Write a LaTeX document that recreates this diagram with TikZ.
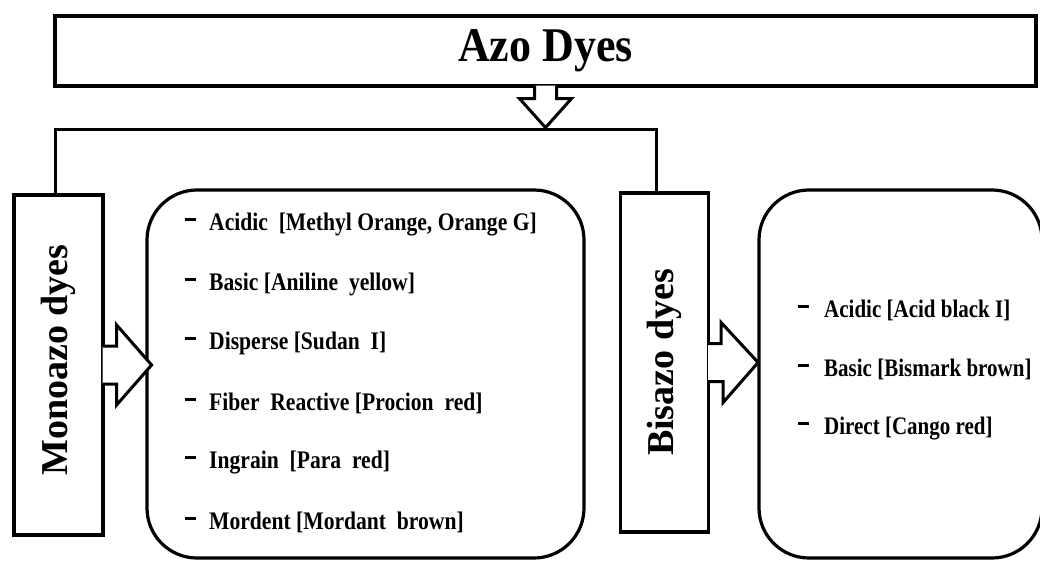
\documentclass[tikz,border=0pt]{standalone}
\usepackage{fontspec}
\setmainfont{Liberation Serif}
\usetikzlibrary{positioning,calc}

\newcommand{\tallbox}[2]{\scalebox{1}[#1]{#2}}
\newcommand{\bardash}{\rule[9.5pt]{11pt}{3pt}}

\begin{document}
\begin{tikzpicture}[
    x=1pt, y=-1pt,
    headbox/.style={draw, line width=3.2pt, rectangle, minimum width=981pt, minimum height=70pt, inner sep=0pt, font=\fontsize{44}{44}\selectfont\bfseries},
    classbox/.style={draw, line width=3.2pt, rectangle, minimum width=89pt, minimum height=340pt, inner sep=0pt},
    listbox/.style={draw, line width=3.2pt, rectangle, rounded corners=50pt, minimum height=368pt, inner sep=0pt},
    vlabel/.style={rotate=90, inner sep=0pt, font=\fontsize{38}{38}\selectfont\bfseries},
    item/.style={anchor=west, inner sep=0pt, font=\fontsize{21}{21}\selectfont\bfseries},
    blockarrow/.style={draw, line width=3pt, fill=white, line join=miter},
  ]
  \useasboundingbox (0,0) rectangle (1040,561);

  \node[headbox] (azo) at (545.5,51) {\tallbox{1.1}{Azo Dyes}};
  \node[classbox] (mono) at (58.5,365) {};
  \node[classbox, minimum width=88pt, minimum height=339pt] (bis) at (664.5,362.5) {};
  \node[listbox, minimum width=437pt] (monolist) at (365.5,374) {};
  \node[listbox, minimum width=283pt] (bislist) at (900.5,374) {};

  \node[vlabel] (monotxt) at ($(mono.center)+(0,-5)$) {Monoazo dyes};
  \node[vlabel] (bistxt) at ($(bis.center)+(0,0)$) {Bisazo dyes};

  % arrow down from the title box
  \path[blockarrow] ($(azo.south)+(-11,-2)$) -- ++(0,13) -- ++(-15,0)
    -- ($(azo.south)+(0,40)$) -- ($(azo.south)+(26,11)$) -- ++(-15,0)
    -- ($(azo.south)+(11,-2)$);
  \coordinate (split) at ($(azo.south)+(0,42)$);
  \draw[line width=3pt] ($(mono.north)+(-3.5,0)$) |- (split) -| ($(bis.north)+(-8.5,0)$);

  % arrows into the lists
  \path[blockarrow] ($(mono.east)+(-2,-19)$) -- ++(14,0) -- ++(0,-21)
    -- ($(mono.east)+(47,0)$) -- ($(mono.east)+(12,40)$) -- ++(0,-21)
    -- ($(mono.east)+(-2,19)$);
  \path[blockarrow] ($(bis.east)+(-2,-19)$) -- ++(13,0) -- ++(0,-21)
    -- ($(bis.east)+(48,0)$) -- ($(bis.east)+(13,40)$) -- ++(0,-21)
    -- ($(bis.east)+(-2,19)$);

  \foreach \txt [count=\i] in {{Acidic\ \ [Methyl Orange, Orange G]}, {Basic [Aniline\ \ yellow]},
      {Disperse [Sudan\ \ I]}, {Fiber\ \ Reactive [Procion\ \ red]}, {Ingrain\ \ [Para\ \ red]},
      {Mordent [Mordant\ \ brown]}}
    \node[item, font=\fontsize{21.6}{21.6}\selectfont\bfseries] (m\i) at (185,{225+59.4*(\i-1)})
      {\bardash\hspace{13pt}\tallbox{1.17}{\txt}};

  \foreach \txt [count=\i] in {{Acidic [Acid black I]}, {Basic [Bismark brown]}, {Direct [Cango red]}}
    \node[item] (b\i) at (798,{310+59.5*(\i-1)}) {\bardash\hspace{15pt}\tallbox{1.2}{\txt}};
\end{tikzpicture}
\end{document}
